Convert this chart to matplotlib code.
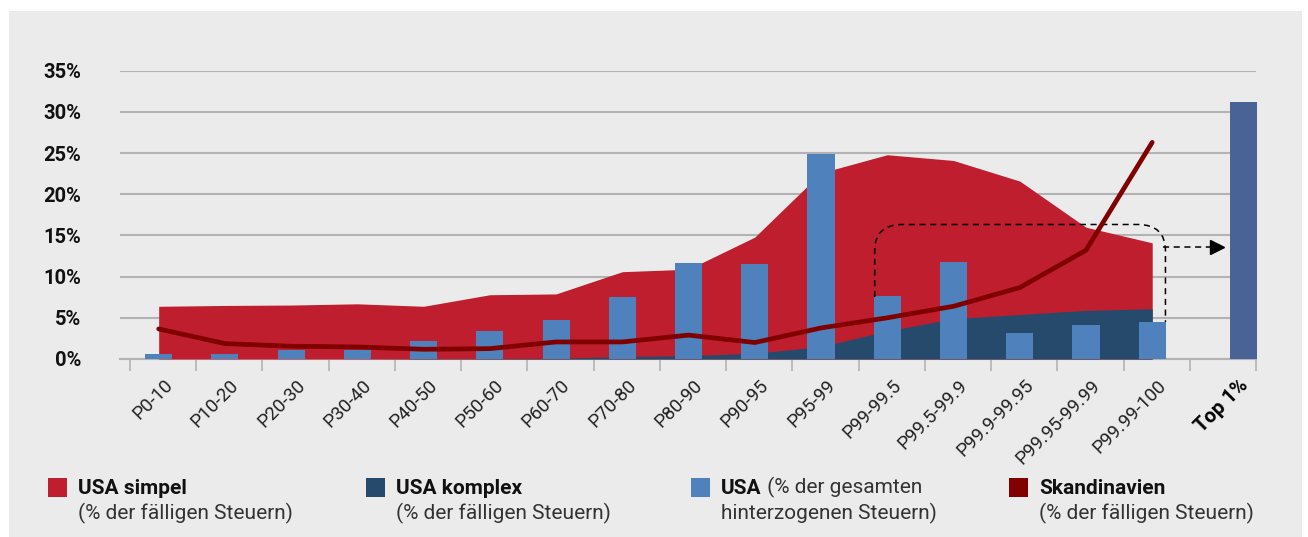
import numpy as np
import matplotlib
matplotlib.use("Agg")
import matplotlib.pyplot as plt
from matplotlib.patches import Rectangle
from matplotlib.path import Path
from matplotlib.patches import PathPatch

# ------------------------------------------------------------------ Daten
categories = ["P0-10", "P10-20", "P20-30", "P30-40", "P40-50", "P50-60",
              "P60-70", "P70-80", "P80-90", "P90-95", "P95-99", "P99-99.5",
              "P99.5-99.9", "P99.9-99.95", "P99.95-99.99", "P99.99-100"]
top_label = "Top 1%"

usa_simpel = [6.4, 6.5, 6.55, 6.7, 6.4, 7.8, 7.9, 10.6, 10.9, 14.8, 22.6,
              24.8, 24.1, 21.6, 16.0, 14.1]
usa_komplex = [0.0, 0.0, 0.0, 0.0, 0.05, 0.05, 0.1, 0.3, 0.4, 0.7, 1.5,
               3.4, 4.9, 5.4, 5.9, 6.1]
usa_hinterzogen = [0.65, 0.6, 1.1, 1.1, 2.15, 3.4, 4.7, 7.5, 11.6, 11.5, 24.9,
                   7.6, 11.75, 3.1, 4.1, 4.45]
top1_value = 31.2
skandinavien = [3.65, 1.87, 1.55, 1.46, 1.18, 1.26, 2.07, 2.07, 2.9, 2.0, 3.77,
                5.0, 6.4, 8.67, 13.2, 26.3]

# ------------------------------------------------------------------ Farben
RED = "#BE1E2D"
DARK = "#264A6C"
LIGHT = "#4F81BD"
TOP = "#4A6396"
LINE = "#800000"
BG = "#EBEBEB"
GRID = "#B3B3B3"

plt.rcParams["font.family"] = ["Roboto", "DejaVu Sans"]

W, H = 1308, 537
fig = plt.figure(figsize=(W / 100, H / 100), dpi=100, facecolor="white")


def px(x, y):
    return x / W, 1 - y / H


# grauer Hintergrund
fig.patches.append(Rectangle(px(9, 537), (1302 - 9) / W, (537 - 11) / H,
                             transform=fig.transFigure, facecolor=BG,
                             edgecolor="none", zorder=-5))

ax = fig.add_axes([120 / W, (537 - 359) / H, (1256 - 120) / W, (359 - 70.7) / H])
ax.set_facecolor("none")
ax.set_zorder(2)

x = np.arange(len(categories))

ax.fill_between(x, 0, usa_simpel, color=RED, linewidth=0, zorder=2)
ax.fill_between(x, 0, usa_komplex, color=DARK, linewidth=0, zorder=3)
ax.bar(x, usa_hinterzogen, width=0.41, color=LIGHT, zorder=4)
ax.bar([16.38], [top1_value], width=0.41, color=TOP, zorder=4, clip_on=False)
ax.plot(x, skandinavien, color=LINE, lw=3.4, solid_capstyle="round",
        solid_joinstyle="round", zorder=6)

# gestrichelter Rahmen mit Pfeil
x0, x2, y1 = 10.81, 15.20, 16.33
rx, ry = 0.42, 3.2
verts = [(x0, 7.53), (x0, y1 - ry), (x0, y1), (x0 + rx, y1), (x2 - rx, y1),
         (x2, y1), (x2, y1 - ry), (x2, 4.5)]
codes = [Path.MOVETO, Path.LINETO, Path.CURVE3, Path.CURVE3, Path.LINETO,
         Path.CURVE3, Path.CURVE3, Path.LINETO]
ax.add_patch(PathPatch(Path(verts, codes), facecolor="none", edgecolor="black",
                       lw=1.1, linestyle=(0, (4, 3)), zorder=5))
ax.plot([15.17, 15.98], [13.6, 13.6], color="black", lw=1.1,
        linestyle=(0, (4, 3)), zorder=5)
ax.plot([15.98], [13.6], marker=">", color="black", markersize=10, zorder=5)

# Achsen
ax.set_xlim(-0.584, 16.51)
ax.set_ylim(0, 35)
ax.set_yticks(np.arange(0, 36, 5))
ax.set_yticklabels([f"{v}%" for v in range(0, 36, 5)], fontsize=14.5,
                   fontweight="bold", color="#111111")
ax.tick_params(axis="y", length=0, pad=28)
ax.grid(axis="y", color=GRID, lw=1.5, zorder=1)
ax.set_axisbelow(True)
for s in ["top", "right", "left"]:
    ax.spines[s].set_visible(False)
ax.spines["bottom"].set_color(GRID)
ax.spines["bottom"].set_linewidth(1.5)
ax.spines["bottom"].set_zorder(1)

label_pos = list(x + 0.17) + [16.4]
ax.set_xticks(label_pos)
labels = ax.set_xticklabels(categories + [top_label], rotation=45, ha="right",
                            va="center", rotation_mode="anchor", fontsize=13.5,
                            color="#222222")
labels[-1].set_fontweight("bold")
labels[-1].set_fontsize(14.5)
labels[-1].set_color("black")
ax.tick_params(axis="x", length=0, pad=17)
ax.set_xticks(np.arange(-0.433, 16.6, 1), minor=True)
ax.tick_params(axis="x", which="minor", length=8.6, width=1.2, color=GRID)

# Legende
legend_items = [
    (48, RED, "USA simpel", "", "(% der fälligen Steuern)"),
    (366, DARK, "USA komplex", "", "(% der fälligen Steuern)"),
    (691, LIGHT, "USA", " (% der gesamten", "hinterzogenen Steuern)"),
    (1009, LINE, "Skandinavien", "", "(% der fälligen Steuern)"),
]
for lx, col, head, rest, line2 in legend_items:
    fig.patches.append(Rectangle(px(lx, 497), 19 / W, 19 / H,
                                 transform=fig.transFigure, facecolor=col,
                                 edgecolor="none"))
    t = fig.text(*px(lx + 30, 494), head, fontsize=15, fontweight="bold",
                 color="#111111", va="baseline")
    if rest:
        fig.add_artist(plt.Annotation(rest, xy=(1, 0), xycoords=t,
                                      va="bottom", fontsize=15,
                                      color="#333333"))
    fig.text(*px(lx + 30, 519.5), line2, fontsize=15, color="#333333",
             va="baseline")

fig.savefig("out.png", dpi=100, facecolor="white")
